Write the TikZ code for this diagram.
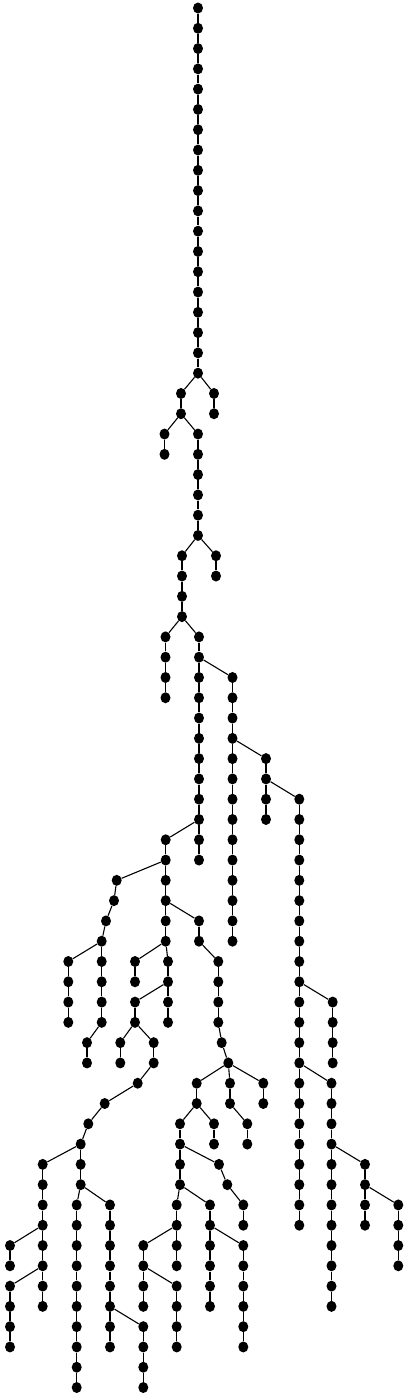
\documentclass[tikz,border=0pt]{standalone}
\usepackage{tikz}
\usetikzlibrary{%
    shapes,
    shapes.geometric,
    positioning,
    calc
}

% one dot per level, levels are 20.287pt apart
\newcommand{\vnode}[3]{\node (#1) at (#2,{8+20.287*#3}) [vertex] {};}
\newcommand{\vchain}[4]{%
    \foreach \l in {#3,...,#4} {\node (#1-\l) at (#2,{8+20.287*\l}) [vertex] {};}
    \foreach \l in {#3,...,#4} {\ifnum\l>#3\relax \pgfmathtruncatemacro{\lp}{\l-1}\draw [edge] (#1-\lp) -- (#1-\l);\fi}
}

\begin{document}
\begin{tikzpicture}[x=1pt, y=-1pt,
                vertex/.style={ellipse, fill=black, draw=none, inner sep=0pt, minimum width=10pt, minimum height=11pt},
                edge/.style={draw, line width=1.1pt}
            ]
            \useasboundingbox (0,0) rectangle (408,1398);

            % trunk and right part
            \vchain{trunk}{198}{0}{18}
            \vchain{ta}{181}{19}{20}
            \vchain{tb}{214}{19}{20}
            \vchain{tc}{164.5}{21}{22}
            \vchain{td}{198}{21}{26}
            \vchain{te}{182}{27}{30}
            \vchain{tf}{216}{27}{28}
            \vchain{tg}{165.5}{31}{34}
            \vchain{th}{199}{31}{42}
            \vchain{ti}{232.5}{33}{46}
            \vchain{tj}{266}{37}{40}
            \vchain{tk}{299.3}{39}{60}
            \vchain{tl}{332.7}{49}{52}
            \vchain{tm}{331.5}{53}{64}
            \vchain{tn}{365}{57}{60}
            \vchain{to}{398.3}{59}{62}

            \draw [edge] (trunk-18) -- (ta-19);
            \draw [edge] (trunk-18) -- (tb-19);
            \draw [edge] (ta-20) -- (tc-21);
            \draw [edge] (ta-20) -- (td-21);
            \draw [edge] (td-26) -- (te-27);
            \draw [edge] (td-26) -- (tf-27);
            \draw [edge] (te-30) -- (tg-31);
            \draw [edge] (te-30) -- (th-31);
            \draw [edge] (th-32) -- (ti-33);
            \draw [edge] (ti-36) -- (tj-37);
            \draw [edge] (tj-38) -- (tk-39);
            \draw [edge] (tk-48) -- (tl-49);
            \draw [edge] (tk-52) -- (tm-53);
            \draw [edge] (tm-56) -- (tn-57);
            \draw [edge] (tn-58) -- (to-59);

            % left part
            \vchain{pa}{165.7}{41}{46}
            \vnode{qb-43}{116.7}{43}
            \vnode{qb-44}{114}{44}
            \vnode{qb-45}{106}{45}
            \vchain{qb}{101.7}{46}{50}
            \vchain{qc}{68.3}{47}{50}
            \vchain{qd}{87}{51}{52}
            \vchain{pb}{135}{47}{48}
            \vchain{pc}{168}{47}{50}
            \vchain{pd}{135}{49}{50}
            \vchain{pe}{120.3}{51}{52}
            \vchain{pf}{153.7}{51}{52}
            \vnode{pf-53}{137.7}{53}
            \vnode{pf-54}{104.7}{54}
            \vnode{pf-55}{88.3}{55}
            \vchain{pf}{80.7}{56}{58}
            \vchain{pg}{42.7}{57}{64}
            \vchain{ph}{10}{61}{62}
            \vchain{pi}{10}{63}{66}
            \vchain{pj}{76.7}{59}{68}
            \vchain{pk}{110}{59}{66}
            \vchain{pl}{143.3}{65}{68}

            \draw [edge] (th-40) -- (pa-41);
            \draw [edge] (pa-42) -- (qb-43) -- (qb-44) -- (qb-45) -- (qb-46);
            \draw [edge] (qb-46) -- (qc-47);
            \draw [edge] (qb-50) -- (qd-51);
            \draw [edge] (pa-46) -- (pb-47);
            \draw [edge] (pa-46) -- (pc-47);
            \draw [edge] (pc-48) -- (pd-49);
            \draw [edge] (pd-50) -- (pe-51);
            \draw [edge] (pd-50) -- (pf-51);
            \draw [edge] (pf-52) -- (pf-53) -- (pf-54) -- (pf-55) -- (pf-56);
            \draw [edge] (pf-56) -- (pg-57);
            \draw [edge] (pg-60) -- (ph-61);
            \draw [edge] (pg-62) -- (pi-63);
            \draw [edge] (pf-58) -- (pj-59);
            \draw [edge] (pf-58) -- (pk-59);
            \draw [edge] (pk-64) -- (pl-65);

            % middle part
            \vchain{ra}{199}{45}{46}
            \vchain{ra}{218.3}{47}{50}
            \vnode{ra-51}{221.7}{51}
            \vnode{ra-52}{228.3}{52}
            \vchain{rb}{196.7}{53}{54}
            \vchain{rc}{230}{53}{54}
            \vchain{rc}{247.3}{55}{56}
            \vchain{rd}{263.3}{53}{54}
            \vchain{re}{180}{55}{58}
            \vchain{rf}{214}{55}{56}
            \vnode{rg-57}{219}{57}
            \vnode{rg-58}{227.3}{58}
            \vchain{rg}{243.3}{59}{60}
            \vchain{rh}{176.7}{59}{62}
            \vchain{ri}{210}{59}{64}
            \vchain{rj}{143.3}{61}{64}
            \vchain{rk}{176.7}{63}{66}
            \vchain{rl}{243.3}{61}{66}

            \draw [edge] (pa-44) -- (ra-45);
            \draw [edge] (ra-46) -- (ra-47);
            \draw [edge] (ra-50) -- (ra-51) -- (ra-52);
            \draw [edge] (ra-52) -- (rb-53);
            \draw [edge] (ra-52) -- (rc-53);
            \draw [edge] (ra-52) -- (rd-53);
            \draw [edge] (rc-54) -- (rc-55);
            \draw [edge] (rb-54) -- (re-55);
            \draw [edge] (rb-54) -- (rf-55);
            \draw [edge] (re-56) -- (rg-57) -- (rg-58) -- (rg-59);
            \draw [edge] (re-58) -- (rh-59);
            \draw [edge] (re-58) -- (ri-59);
            \draw [edge] (rh-60) -- (rj-61);
            \draw [edge] (rj-62) -- (rk-63);
            \draw [edge] (ri-60) -- (rl-61);
\end{tikzpicture}
\end{document}
